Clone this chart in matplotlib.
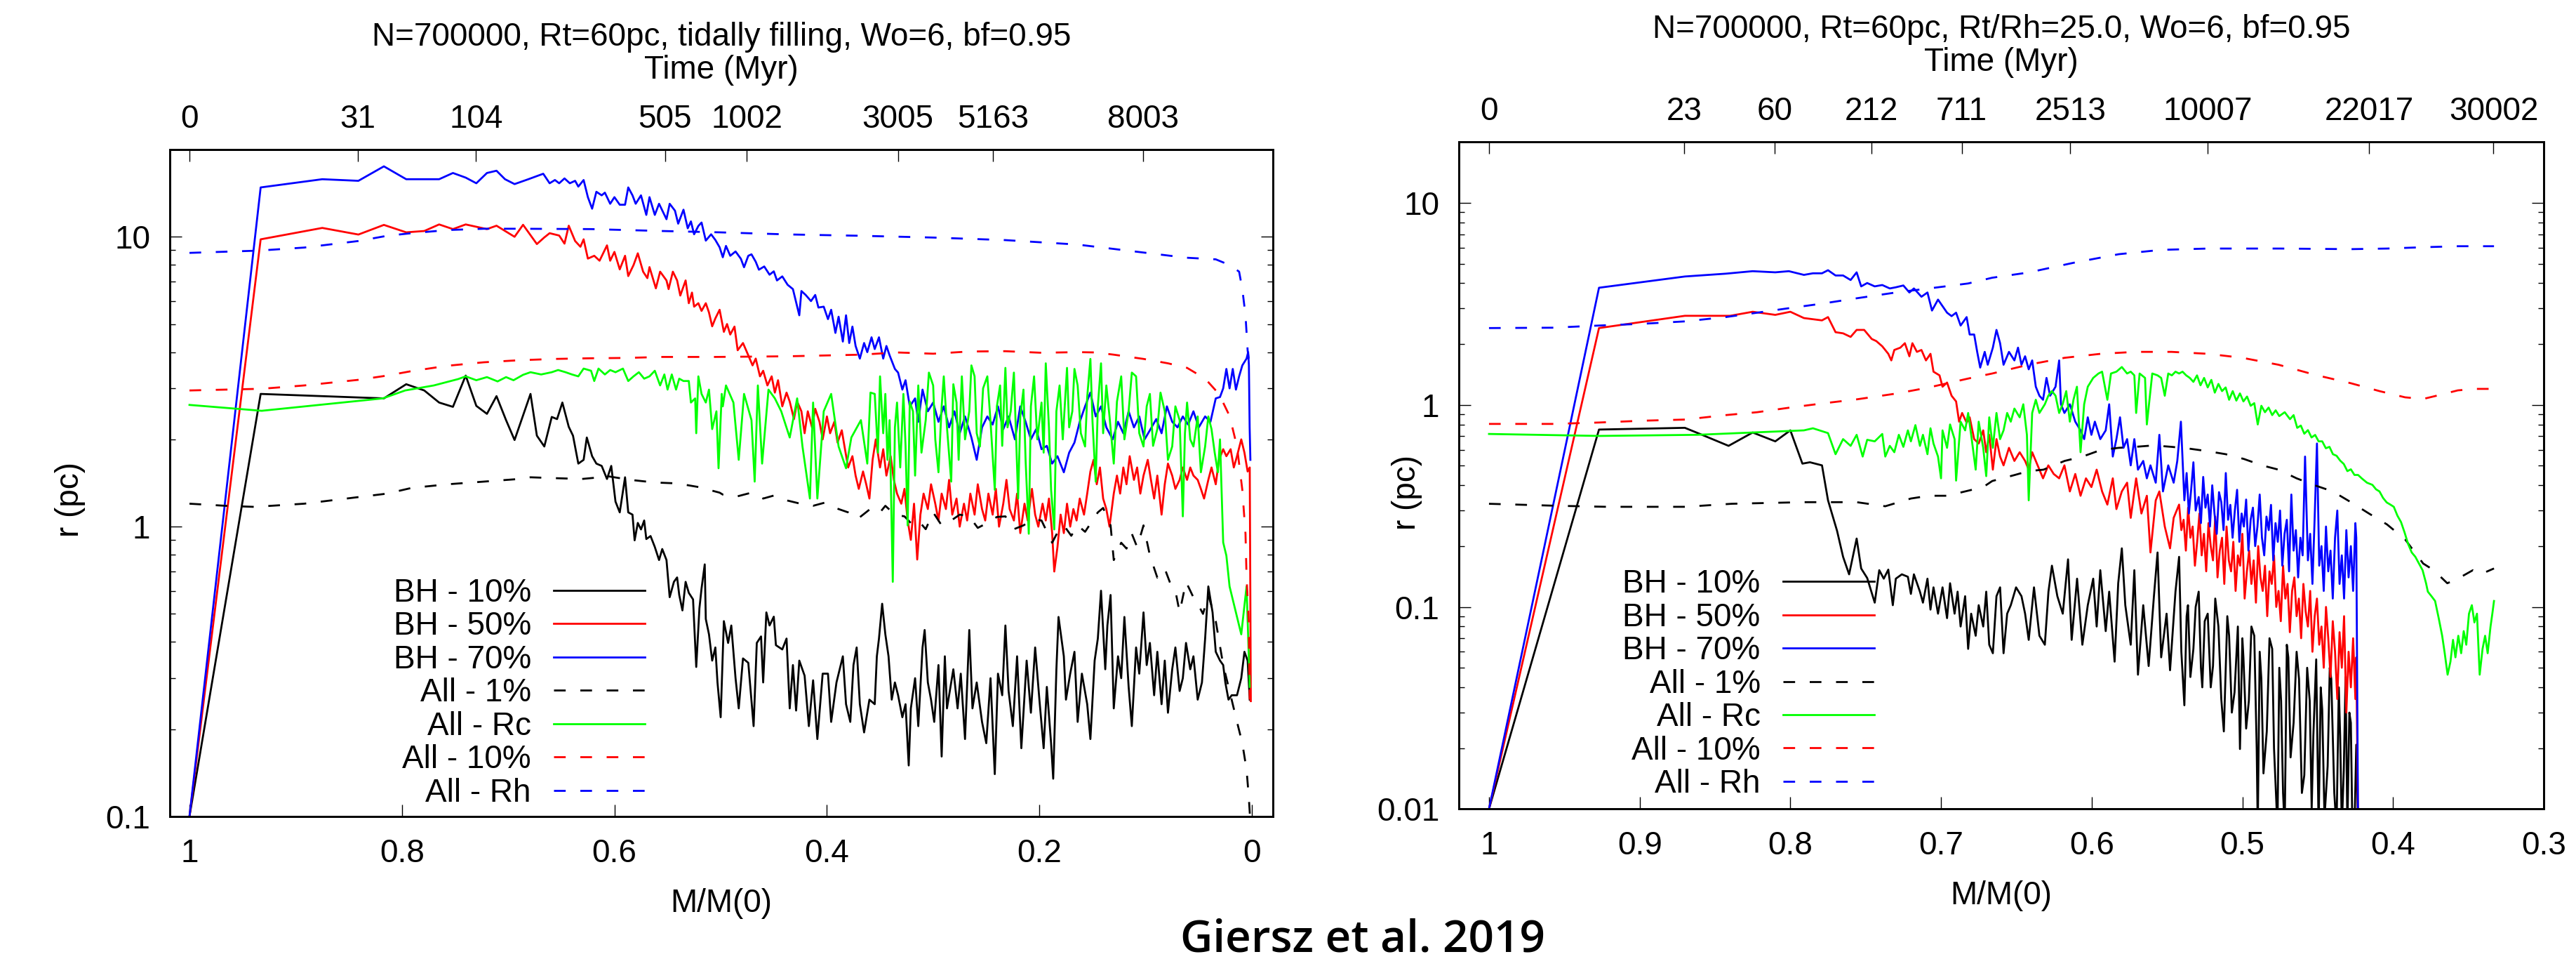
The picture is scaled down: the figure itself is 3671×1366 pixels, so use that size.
import matplotlib.pyplot as plt
from matplotlib.ticker import FixedLocator, NullFormatter, LogLocator
import numpy as np

plt.rcParams['font.family'] = ['Liberation Sans', 'DejaVu Sans']

# ---------------- left panel: tidally filling ----------------
left_title = 'N=700000, Rt=60pc, tidally filling, Wo=6, bf=0.95'
left_top_m = [1.0, 0.8414, 0.7302, 0.5525, 0.4756, 0.3332, 0.2436, 0.1027]
left_top_t = ['0', '31', '104', '505', '1002', '3005', '5163', '8003']
left_xticks = [1, 0.8, 0.6, 0.4, 0.2, 0]
left_yticks = [0.1, 1, 10]

# (M/M0, r[pc])
left_bh10 = [(1.000, 0.10), (0.933, 2.87), (0.875, 2.82), (0.817, 2.77), (0.796, 3.10), (0.779, 2.95), (0.765, 2.68),
             (0.752, 2.59), (0.740, 3.32), (0.730, 2.61), (0.720, 2.45), (0.711, 2.82), (0.702, 2.33), (0.694, 1.99),
             (0.679, 2.87), (0.673, 2.06), (0.666, 1.89), (0.659, 2.39), (0.654, 2.35), (0.649, 2.68), (0.643, 2.21),
             (0.639, 2.06), (0.634, 1.65), (0.629, 1.70), (0.626, 2.03), (0.621, 1.75), (0.617, 1.65), (0.612, 1.62),
             (0.607, 1.46), (0.603, 1.62), (0.599, 1.22), (0.595, 1.12), (0.590, 1.48), (0.587, 1.12), (0.583, 1.10),
             (0.581, 0.897), (0.578, 1.03), (0.575, 0.978), (0.572, 1.05), (0.570, 0.906), (0.566, 0.928), (0.562, 0.851),
             (0.558, 0.767), (0.555, 0.837), (0.551, 0.767), (0.548, 0.571), (0.544, 0.645), (0.541, 0.668), (0.539, 0.581),
             (0.536, 0.514), (0.533, 0.645), (0.530, 0.591), (0.526, 0.561), (0.523, 0.328), (0.520, 0.523), (0.518, 0.612),
             (0.515, 0.741), (0.514, 0.480), (0.511, 0.425), (0.508, 0.345), (0.505, 0.383), (0.503, 0.290), (0.500, 0.220),
             (0.497, 0.472), (0.493, 0.397), (0.490, 0.456), (0.486, 0.300), (0.483, 0.236), (0.479, 0.351), (0.474, 0.339),
             (0.469, 0.205), (0.466, 0.397), (0.462, 0.418), (0.460, 0.290), (0.457, 0.506), (0.454, 0.456), (0.450, 0.489),
             (0.448, 0.390), (0.442, 0.377), (0.438, 0.411), (0.435, 0.236), (0.432, 0.333), (0.429, 0.232), (0.426, 0.345),
             (0.421, 0.306), (0.417, 0.205), (0.413, 0.295), (0.409, 0.185), (0.404, 0.311), (0.399, 0.311), (0.396, 0.212),
             (0.391, 0.290), (0.385, 0.357), (0.382, 0.244), (0.378, 0.212), (0.375, 0.333), (0.372, 0.383), (0.369, 0.244),
             (0.365, 0.195), (0.360, 0.253), (0.355, 0.244), (0.353, 0.357), (0.351, 0.411), (0.348, 0.542), (0.345, 0.425),
             (0.342, 0.357), (0.339, 0.253), (0.336, 0.290), (0.333, 0.262), (0.329, 0.220), (0.326, 0.244), (0.323, 0.150),
             (0.321, 0.236), (0.317, 0.300), (0.314, 0.205), (0.310, 0.383), (0.308, 0.440), (0.305, 0.290), (0.302, 0.253),
             (0.299, 0.212), (0.295, 0.333), (0.292, 0.161), (0.289, 0.357), (0.287, 0.236), (0.281, 0.322), (0.277, 0.236),
             (0.274, 0.311), (0.270, 0.185), (0.266, 0.440), (0.263, 0.236), (0.259, 0.290), (0.254, 0.212), (0.250, 0.179),
             (0.246, 0.300), (0.242, 0.140), (0.239, 0.311), (0.235, 0.262), (0.232, 0.456), (0.229, 0.271), (0.225, 0.205),
             (0.221, 0.357), (0.217, 0.172), (0.212, 0.345), (0.208, 0.228), (0.204, 0.383), (0.200, 0.253), (0.196, 0.172),
             (0.193, 0.280), (0.189, 0.179), (0.187, 0.135), (0.184, 0.322), (0.182, 0.488), (0.177, 0.357), (0.175, 0.253),
             (0.171, 0.311), (0.167, 0.370), (0.164, 0.212), (0.160, 0.311), (0.155, 0.244), (0.152, 0.185), (0.148, 0.345),
             (0.145, 0.411), (0.142, 0.601), (0.138, 0.322), (0.136, 0.456), (0.133, 0.581), (0.130, 0.236), (0.126, 0.357),
             (0.123, 0.300), (0.120, 0.488), (0.116, 0.280), (0.113, 0.205), (0.109, 0.383), (0.106, 0.311), (0.102, 0.506),
             (0.099, 0.333), (0.096, 0.397), (0.092, 0.262), (0.089, 0.370), (0.085, 0.244), (0.082, 0.345), (0.079, 0.228),
             (0.075, 0.322), (0.072, 0.383), (0.068, 0.271), (0.065, 0.300), (0.062, 0.397), (0.058, 0.322), (0.055, 0.357),
             (0.051, 0.253), (0.047, 0.290), (0.044, 0.411), (0.041, 0.622), (0.037, 0.506), (0.034, 0.370), (0.030, 0.345),
             (0.027, 0.333), (0.025, 0.290), (0.022, 0.253), (0.019, 0.262), (0.014, 0.262), (0.010, 0.300), (0.007, 0.370),
             (0.004, 0.345), (0.002, 0.253)]

left_bh50 = [(1.000, 0.10), (0.933, 9.80), (0.875, 10.73), (0.841, 10.18), (0.817, 10.99), (0.796, 10.36), (0.779, 10.47),
             (0.765, 11.03), (0.752, 10.63), (0.740, 11.03), (0.720, 10.63), (0.711, 10.92), (0.694, 10.00), (0.686, 11.00),
             (0.673, 9.44), (0.666, 9.95), (0.661, 10.29), (0.652, 10.10), (0.647, 9.47), (0.643, 10.92), (0.637, 9.67),
             (0.632, 9.24), (0.629, 9.80), (0.625, 8.41), (0.619, 8.60), (0.614, 8.27), (0.607, 9.34), (0.604, 8.27),
             (0.600, 8.87), (0.595, 7.72), (0.590, 8.60), (0.587, 7.32), (0.582, 7.99), (0.578, 8.77), (0.573, 7.58),
             (0.569, 7.20), (0.567, 7.86), (0.561, 6.64), (0.557, 7.58), (0.551, 7.07), (0.549, 6.60), (0.545, 7.58),
             (0.541, 7.07), (0.538, 6.27), (0.533, 7.07), (0.530, 5.90), (0.527, 6.42), (0.525, 5.74), (0.521, 5.90),
             (0.518, 5.55), (0.514, 5.90), (0.511, 5.48), (0.508, 4.91), (0.505, 5.23), (0.501, 5.60), (0.497, 4.70),
             (0.494, 5.00), (0.491, 4.60), (0.487, 4.90), (0.484, 4.06), (0.479, 4.30), (0.474, 3.90), (0.470, 3.60),
             (0.467, 3.80), (0.463, 3.30), (0.460, 3.45), (0.456, 3.07), (0.452, 3.30), (0.449, 2.90), (0.446, 3.20),
             (0.442, 2.60), (0.438, 2.90), (0.435, 2.70), (0.431, 2.35), (0.428, 2.70), (0.424, 2.50), (0.421, 2.10),
             (0.418, 2.50), (0.414, 2.20), (0.411, 2.55), (0.407, 2.30), (0.404, 2.00), (0.400, 2.40), (0.397, 2.10),
             (0.393, 2.30), (0.390, 1.95), (0.386, 2.15), (0.383, 1.85), (0.380, 1.60), (0.376, 1.75), (0.373, 1.50),
             (0.370, 1.35), (0.366, 1.55), (0.363, 1.40), (0.360, 1.25), (0.357, 1.70), (0.354, 2.00), (0.350, 1.60),
             (0.347, 1.85), (0.344, 1.50), (0.340, 1.75), (0.337, 1.45), (0.334, 1.30), (0.330, 1.20), (0.327, 1.35),
             (0.324, 1.05), (0.321, 0.90), (0.318, 1.20), (0.315, 0.77), (0.312, 1.10), (0.309, 1.30), (0.305, 1.15),
             (0.302, 1.40), (0.298, 1.20), (0.295, 1.05), (0.292, 1.30), (0.288, 1.15), (0.285, 1.45), (0.282, 1.10),
             (0.278, 1.25), (0.275, 1.00), (0.271, 1.20), (0.268, 1.05), (0.265, 1.30), (0.261, 1.10), (0.258, 1.40),
             (0.254, 1.15), (0.251, 1.05), (0.248, 1.30), (0.244, 1.10), (0.241, 1.35), (0.238, 1.00), (0.234, 1.20),
             (0.231, 1.45), (0.228, 1.15), (0.224, 1.05), (0.221, 1.30), (0.218, 0.95), (0.214, 1.20), (0.211, 1.05),
             (0.207, 1.35), (0.204, 1.10), (0.201, 1.00), (0.197, 1.20), (0.194, 1.05), (0.191, 1.25), (0.188, 0.95),
             (0.186, 0.70), (0.183, 0.85), (0.180, 1.10), (0.177, 0.95), (0.174, 1.20), (0.171, 1.00), (0.168, 1.15),
             (0.165, 1.05), (0.162, 1.25), (0.158, 1.10), (0.155, 1.30), (0.152, 1.55), (0.149, 1.70), (0.146, 1.40),
             (0.143, 1.60), (0.140, 1.25), (0.137, 1.15), (0.134, 1.00), (0.130, 1.30), (0.127, 1.50), (0.124, 1.30),
             (0.121, 1.60), (0.118, 1.40), (0.115, 1.75), (0.111, 1.45), (0.108, 1.60), (0.105, 1.30), (0.102, 1.50),
             (0.098, 1.70), (0.095, 1.45), (0.092, 1.25), (0.089, 1.50), (0.085, 1.10), (0.082, 1.40), (0.079, 1.65),
             (0.075, 1.50), (0.072, 1.35), (0.068, 1.45), (0.065, 1.60), (0.061, 1.45), (0.058, 1.60), (0.055, 1.50),
             (0.051, 1.45), (0.048, 1.35), (0.045, 1.25), (0.041, 1.45), (0.038, 1.60), (0.034, 1.40), (0.031, 1.70),
             (0.027, 1.85), (0.024, 1.75), (0.020, 1.85), (0.017, 1.60), (0.014, 1.75), (0.010, 2.00), (0.007, 1.80),
             (0.004, 1.55), (0.002, 1.60), (0.001, 0.25)]

left_bh70 = [(1.000, 0.10), (0.933, 14.8), (0.875, 15.8), (0.841, 15.6), (0.817, 17.5), (0.796, 15.8), (0.765, 15.8),
             (0.752, 16.6), (0.740, 16.0), (0.730, 15.3), (0.720, 16.6), (0.711, 16.9), (0.703, 15.8), (0.694, 15.2),
             (0.681, 15.8), (0.667, 16.5), (0.661, 15.3), (0.656, 15.7), (0.652, 15.3), (0.647, 15.9), (0.642, 15.3),
             (0.637, 15.6), (0.634, 14.9), (0.629, 15.7), (0.625, 13.7), (0.621, 12.5), (0.617, 14.3), (0.612, 13.9),
             (0.609, 14.2), (0.604, 13.0), (0.600, 13.7), (0.595, 12.9), (0.590, 12.9), (0.587, 14.8), (0.583, 13.9),
             (0.580, 13.0), (0.575, 13.9), (0.570, 11.9), (0.567, 13.7), (0.562, 11.9), (0.558, 13.0), (0.551, 11.5),
             (0.548, 13.0), (0.543, 12.3), (0.540, 11.1), (0.535, 12.4), (0.531, 10.7), (0.528, 11.3), (0.525, 10.2),
             (0.521, 10.9), (0.518, 11.2), (0.514, 9.7), (0.509, 10.2), (0.505, 9.75), (0.501, 9.2), (0.498, 8.5),
             (0.495, 9.3), (0.491, 8.6), (0.486, 8.9), (0.481, 8.4), (0.478, 7.85), (0.474, 8.6), (0.471, 8.7),
             (0.467, 8.2), (0.464, 7.7), (0.459, 7.9), (0.454, 7.4), (0.450, 7.6), (0.447, 7.07), (0.442, 7.3),
             (0.437, 6.83), (0.432, 6.6), (0.426, 5.36), (0.424, 6.5), (0.420, 6.3), (0.415, 6.0), (0.411, 6.3),
             (0.408, 5.7), (0.403, 5.74), (0.399, 5.2), (0.396, 5.6), (0.392, 4.66), (0.389, 5.3), (0.385, 4.35),
             (0.382, 5.36), (0.379, 4.3), (0.376, 4.9), (0.373, 4.2), (0.369, 3.8), (0.365, 4.3), (0.362, 4.0),
             (0.358, 4.5), (0.355, 4.1), (0.351, 4.5), (0.347, 3.8), (0.344, 4.2), (0.341, 3.9), (0.336, 3.5),
             (0.333, 3.4), (0.329, 2.97), (0.326, 3.2), (0.322, 2.6), (0.317, 2.77), (0.314, 2.3), (0.310, 2.97),
             (0.305, 2.5), (0.300, 2.68), (0.295, 2.3), (0.290, 2.6), (0.285, 2.2), (0.280, 2.5), (0.275, 2.1),
             (0.270, 2.4), (0.264, 2.03), (0.259, 1.7), (0.254, 2.2), (0.249, 2.4), (0.244, 2.25), (0.239, 2.6),
             (0.234, 2.17), (0.229, 2.4), (0.223, 2.0), (0.218, 2.6), (0.213, 2.3), (0.208, 2.0), (0.203, 2.17),
             (0.198, 1.85), (0.193, 1.9), (0.188, 1.65), (0.183, 1.75), (0.177, 1.54), (0.172, 1.8), (0.167, 1.95),
             (0.162, 2.3), (0.157, 2.6), (0.152, 2.9), (0.147, 2.4), (0.142, 2.6), (0.137, 2.2), (0.131, 2.0),
             (0.126, 2.3), (0.121, 2.1), (0.116, 2.5), (0.111, 2.2), (0.106, 2.4), (0.101, 2.0), (0.096, 2.15),
             (0.090, 2.35), (0.085, 2.1), (0.080, 2.6), (0.075, 2.3), (0.070, 2.2), (0.065, 2.4), (0.060, 2.25),
             (0.055, 2.5), (0.050, 2.2), (0.044, 2.4), (0.039, 2.3), (0.034, 2.77), (0.030, 2.8), (0.027, 3.0),
             (0.024, 3.5), (0.021, 3.0), (0.018, 3.5), (0.015, 2.97), (0.012, 3.3), (0.009, 3.6), (0.005, 3.8),
             (0.0035, 4.0), (0.0028, 3.6), (0.0021, 2.2), (0.0014, 1.7)]

left_all1 = [(1.000, 1.20), (0.966, 1.18), (0.939, 1.17), (0.892, 1.20), (0.868, 1.23), (0.814, 1.30), (0.791, 1.36),
             (0.757, 1.40), (0.723, 1.43), (0.690, 1.46), (0.679, 1.48), (0.656, 1.47), (0.631, 1.46), (0.605, 1.49),
             (0.585, 1.45), (0.562, 1.42), (0.541, 1.41), (0.521, 1.37), (0.501, 1.31), (0.498, 1.29), (0.485, 1.27),
             (0.471, 1.31), (0.460, 1.25), (0.450, 1.28), (0.437, 1.23), (0.425, 1.20), (0.413, 1.18), (0.402, 1.21),
             (0.392, 1.16), (0.380, 1.12), (0.372, 1.06), (0.368, 1.085), (0.358, 1.16), (0.350, 1.12), (0.345, 1.18),
             (0.336, 1.10), (0.327, 1.085), (0.320, 1.02), (0.314, 1.05), (0.307, 0.98), (0.300, 1.12), (0.292, 1.01),
             (0.283, 1.05), (0.275, 1.10), (0.266, 1.085), (0.258, 0.99), (0.249, 1.03), (0.240, 1.08), (0.232, 1.085),
             (0.224, 0.98), (0.215, 1.01), (0.206, 1.06), (0.198, 1.05), (0.188, 0.88), (0.182, 0.97), (0.177, 1.01),
             (0.170, 0.93), (0.164, 1.01), (0.157, 0.96), (0.150, 1.05), (0.145, 1.12), (0.140, 1.16), (0.133, 1.01),
             (0.130, 0.767), (0.123, 0.88), (0.118, 0.84), (0.113, 0.945), (0.108, 0.85), (0.102, 1.01), (0.096, 0.795),
             (0.089, 0.667), (0.082, 0.716), (0.077, 0.64), (0.072, 0.601), (0.068, 0.506), (0.062, 0.645), (0.056, 0.58),
             (0.051, 0.542), (0.046, 0.50), (0.041, 0.581), (0.034, 0.472), (0.027, 0.333), (0.021, 0.271), (0.014, 0.212),
             (0.009, 0.179), (0.005, 0.145), (0.003, 0.118), (0.001, 0.09)]

left_rc = [(1.000, 2.63), (0.932, 2.51), (0.818, 2.77), (0.797, 2.95), (0.770, 3.07), (0.747, 3.23), (0.740, 3.30),
           (0.730, 3.20), (0.720, 3.28), (0.710, 3.17), (0.702, 3.28), (0.695, 3.20), (0.686, 3.34), (0.679, 3.41),
           (0.669, 3.35), (0.659, 3.41), (0.653, 3.47), (0.646, 3.41), (0.640, 3.35), (0.634, 3.30), (0.629, 3.51),
           (0.622, 3.45), (0.619, 3.18), (0.615, 3.51), (0.609, 3.35), (0.604, 3.47), (0.599, 3.41), (0.592, 3.51),
           (0.587, 3.18), (0.582, 3.30), (0.577, 3.41), (0.572, 3.24), (0.567, 3.30), (0.562, 3.45), (0.557, 3.07),
           (0.553, 3.35), (0.550, 2.97), (0.546, 3.35), (0.542, 2.97), (0.539, 3.24), (0.535, 3.18), (0.530, 3.18),
           (0.528, 2.68), (0.524, 2.77), (0.523, 2.10), (0.521, 3.30), (0.518, 2.87), (0.514, 2.68), (0.511, 2.97),
           (0.508, 2.17), (0.504, 2.50), (0.502, 1.59), (0.499, 2.87), (0.498, 2.60), (0.495, 3.07), (0.488, 2.68),
           (0.483, 1.70), (0.478, 2.87), (0.471, 2.33), (0.468, 1.43), (0.465, 3.07), (0.461, 1.65), (0.455, 2.97),
           (0.449, 2.77), (0.443, 2.50), (0.435, 2.03), (0.428, 2.77), (0.423, 1.89), (0.416, 1.25), (0.413, 2.68),
           (0.409, 1.25), (0.403, 2.50), (0.396, 2.87), (0.389, 1.89), (0.382, 1.59), (0.377, 2.03), (0.368, 2.33),
           (0.362, 1.65), (0.359, 2.90), (0.355, 2.87), (0.352, 1.80), (0.350, 3.30), (0.347, 2.10), (0.345, 2.87),
           (0.343, 1.70), (0.341, 2.33), (0.338, 0.645), (0.336, 2.20), (0.334, 2.68), (0.331, 1.60), (0.328, 2.87),
           (0.326, 1.90), (0.324, 1.01), (0.322, 2.70), (0.319, 2.50), (0.317, 1.50), (0.314, 3.07), (0.311, 1.80),
           (0.307, 2.33), (0.304, 3.40), (0.300, 3.07), (0.298, 2.00), (0.295, 1.54), (0.292, 2.60), (0.290, 3.30),
           (0.287, 2.20), (0.283, 1.43), (0.281, 3.10), (0.278, 2.68), (0.276, 1.70), (0.273, 3.30), (0.270, 2.00),
           (0.266, 2.50), (0.264, 3.60), (0.261, 3.30), (0.259, 2.10), (0.256, 1.89), (0.253, 3.00), (0.249, 3.30),
           (0.246, 2.30), (0.242, 1.34), (0.240, 2.60), (0.237, 3.07), (0.235, 1.90), (0.232, 3.53), (0.230, 2.20),
           (0.227, 2.50), (0.224, 3.40), (0.220, 1.25), (0.218, 2.40), (0.215, 2.97), (0.213, 1.70), (0.210, 0.945),
           (0.208, 2.60), (0.205, 3.30), (0.202, 2.00), (0.198, 2.68), (0.196, 1.80), (0.194, 3.66), (0.191, 2.20),
           (0.189, 1.34), (0.186, 0.978), (0.184, 2.50), (0.181, 3.07), (0.178, 2.00), (0.174, 3.53), (0.172, 2.20),
           (0.169, 2.50), (0.167, 3.50), (0.164, 3.07), (0.161, 2.10), (0.157, 1.89), (0.155, 2.80), (0.152, 3.79),
           (0.150, 2.30), (0.147, 1.43), (0.145, 2.60), (0.142, 3.66), (0.140, 2.10), (0.137, 3.07), (0.134, 2.40),
           (0.130, 1.65), (0.127, 2.70), (0.123, 3.30), (0.120, 2.00), (0.116, 2.50), (0.113, 3.40), (0.109, 3.30),
           (0.106, 2.10), (0.102, 1.89), (0.099, 2.60), (0.096, 2.87), (0.093, 1.90), (0.089, 2.17), (0.086, 2.90),
           (0.082, 2.50), (0.079, 1.70), (0.075, 1.89), (0.072, 2.60), (0.068, 2.33), (0.065, 1.085), (0.063, 2.10),
           (0.061, 2.68), (0.058, 2.00), (0.055, 1.89), (0.051, 2.40), (0.048, 1.54), (0.044, 1.89), (0.041, 2.40),
           (0.038, 2.17), (0.035, 1.80), (0.032, 1.54), (0.030, 2.00), (0.027, 0.882), (0.024, 0.794), (0.021, 0.622),
           (0.015, 0.506), (0.010, 0.425), (0.005, 0.622), (0.002, 0.280)]

left_all10 = [(1.000, 2.95), (0.932, 2.99), (0.892, 3.07), (0.841, 3.21), (0.814, 3.32), (0.791, 3.44), (0.757, 3.59),
              (0.723, 3.69), (0.690, 3.75), (0.656, 3.79), (0.622, 3.81), (0.589, 3.82), (0.555, 3.85), (0.505, 3.85),
              (0.437, 3.87), (0.368, 3.92), (0.334, 3.99), (0.300, 3.95), (0.266, 4.02), (0.232, 4.03), (0.198, 3.98),
              (0.164, 4.00), (0.147, 3.99), (0.130, 3.92), (0.102, 3.79), (0.079, 3.66), (0.061, 3.53), (0.044, 3.24),
              (0.031, 2.87), (0.021, 2.41), (0.014, 1.89), (0.009, 1.34), (0.006, 0.944), (0.005, 0.667), (0.003, 0.472),
              (0.002, 0.253)]

left_rh = [(1.000, 8.80), (0.935, 8.96), (0.892, 9.18), (0.841, 9.67), (0.814, 10.08), (0.791, 10.29), (0.757, 10.55),
           (0.723, 10.66), (0.690, 10.66), (0.622, 10.63), (0.555, 10.47), (0.501, 10.36), (0.437, 10.19), (0.368, 10.08),
           (0.300, 9.94), (0.232, 9.74), (0.164, 9.40), (0.130, 9.08), (0.096, 8.77), (0.062, 8.47), (0.034, 8.36),
           (0.021, 7.99), (0.012, 7.58), (0.009, 6.60), (0.006, 5.36), (0.004, 4.06), (0.003, 3.80)]

# ---------------- right panel: Rt/Rh=25 ----------------
right_title = 'N=700000, Rt=60pc, Rt/Rh=25.0, Wo=6, bf=0.95'
right_top_m = [1.0, 0.8704, 0.8104, 0.7462, 0.6863, 0.6142, 0.5231, 0.4158, 0.3333]
right_top_t = ['0', '23', '60', '212', '711', '2513', '10007', '22017', '30002']
right_xticks = [1, 0.9, 0.8, 0.7, 0.6, 0.5, 0.4, 0.3]
right_yticks = [0.01, 0.1, 1, 10]

right_bh10 = [(1.000, 0.01), (0.927, 0.755), (0.870, 0.770), (0.860, 0.718), (0.841, 0.627), (0.825, 0.730),
              (0.810, 0.660), (0.800, 0.748), (0.792, 0.512), (0.787, 0.520), (0.779, 0.502), (0.775, 0.337),
              (0.769, 0.238), (0.765, 0.177), (0.761, 0.145), (0.756, 0.218), (0.753, 0.155), (0.749, 0.139),
              (0.744, 0.105), (0.741, 0.152), (0.738, 0.138), (0.735, 0.153), (0.732, 0.102), (0.730, 0.138),
              (0.726, 0.145), (0.722, 0.141), (0.720, 0.116), (0.718, 0.145), (0.714, 0.119), (0.712, 0.105),
              (0.709, 0.138), (0.707, 0.097), (0.705, 0.125), (0.702, 0.0926), (0.699, 0.125), (0.696, 0.088),
              (0.694, 0.131), (0.691, 0.0926), (0.689, 0.119), (0.687, 0.080), (0.684, 0.113), (0.682, 0.062),
              (0.680, 0.0926), (0.677, 0.072), (0.675, 0.102), (0.672, 0.080), (0.670, 0.119), (0.668, 0.065),
              (0.6656, 0.059), (0.6632, 0.113), (0.6608, 0.125), (0.6585, 0.059), (0.6561, 0.0926), (0.6537, 0.102),
              (0.6502, 0.125), (0.6466, 0.113), (0.6442, 0.0926), (0.6418, 0.0687), (0.6383, 0.125), (0.6347, 0.072),
              (0.6311, 0.065), (0.6287, 0.119), (0.6264, 0.160), (0.6228, 0.113), (0.6192, 0.0926), (0.6157, 0.172),
              (0.6133, 0.0687), (0.6097, 0.138), (0.6062, 0.065), (0.6026, 0.102), (0.5990, 0.138), (0.5967, 0.080),
              (0.5943, 0.152), (0.5907, 0.0759), (0.5884, 0.119), (0.5848, 0.0536), (0.5824, 0.131), (0.5800, 0.195),
              (0.5777, 0.102), (0.5741, 0.065), (0.5717, 0.152), (0.5693, 0.0462), (0.5658, 0.102), (0.5622, 0.051),
              (0.5587, 0.113), (0.5563, 0.186), (0.5539, 0.0563), (0.5503, 0.0926), (0.5480, 0.0486), (0.5444, 0.119),
              (0.5420, 0.177), (0.5405, 0.060), (0.5385, 0.0326), (0.5370, 0.090), (0.5361, 0.102), (0.5345, 0.045),
              (0.5325, 0.062), (0.5310, 0.100), (0.5290, 0.119), (0.5275, 0.050), (0.5266, 0.040), (0.5250, 0.085),
              (0.5230, 0.0926), (0.5210, 0.040), (0.5195, 0.051), (0.5180, 0.110), (0.5159, 0.080), (0.5140, 0.035),
              (0.5123, 0.0242), (0.5100, 0.090), (0.5088, 0.072), (0.5070, 0.030), (0.5052, 0.0378), (0.5030, 0.080),
              (0.5016, 0.0198), (0.5000, 0.070), (0.4993, 0.0563), (0.4975, 0.025), (0.4957, 0.0343), (0.4940, 0.080),
              (0.4921, 0.072), (0.4905, 0.020), (0.4898, 0.008), (0.4885, 0.060), (0.4874, 0.044), (0.4860, 0.015),
              (0.4838, 0.0242), (0.4820, 0.070), (0.4802, 0.062), (0.4790, 0.020), (0.4767, 0.008), (0.4755, 0.050),
              (0.4743, 0.0343), (0.4730, 0.012), (0.4719, 0.008), (0.4705, 0.065), (0.4695, 0.0563), (0.4680, 0.018),
              (0.4660, 0.0267), (0.4640, 0.060), (0.4624, 0.044), (0.4605, 0.012), (0.4589, 0.0147), (0.4570, 0.050),
              (0.4553, 0.0343), (0.4540, 0.010), (0.4529, 0.0230), (0.4510, 0.055), (0.4494, 0.008), (0.4480, 0.040),
              (0.4470, 0.031), (0.4455, 0.009), (0.4434, 0.0163), (0.4420, 0.050), (0.4410, 0.044), (0.4390, 0.012),
              (0.4375, 0.008), (0.4360, 0.040), (0.4351, 0.0230), (0.4340, 0.008), (0.4327, 0.0155), (0.4315, 0.045),
              (0.4303, 0.008), (0.4290, 0.030), (0.4280, 0.0267), (0.4270, 0.008), (0.4256, 0.008), (0.4244, 0.0208),
              (0.4232, 0.008)]

right_bh50 = [(1.000, 0.01), (0.927, 2.40), (0.870, 2.76), (0.840, 2.76), (0.825, 2.89), (0.810, 2.79), (0.800, 2.89),
              (0.791, 2.69), (0.779, 2.62), (0.775, 2.72), (0.770, 2.29), (0.765, 2.26), (0.760, 2.17), (0.756, 2.35),
              (0.751, 2.35), (0.746, 2.12), (0.743, 2.07), (0.739, 1.95), (0.735, 1.79), (0.733, 1.66), (0.731, 1.87),
              (0.727, 1.92), (0.724, 2.02), (0.721, 1.74), (0.719, 2.02), (0.716, 1.83), (0.713, 1.87), (0.710, 1.66),
              (0.707, 1.79), (0.705, 1.46), (0.701, 1.40), (0.699, 1.23), (0.696, 1.29), (0.693, 1.11), (0.690, 1.04),
              (0.688, 0.826), (0.686, 0.912), (0.683, 0.816), (0.681, 0.868), (0.678, 0.677), (0.675, 0.644),
              (0.672, 0.748), (0.670, 0.583), (0.668, 0.711), (0.6656, 0.478), (0.6632, 0.677), (0.6608, 0.555),
              (0.6585, 0.502), (0.6549, 0.613), (0.6513, 0.528), (0.6478, 0.583), (0.6442, 0.528), (0.6418, 0.478),
              (0.6395, 0.583), (0.6359, 0.502), (0.6323, 0.433), (0.6288, 0.502), (0.6252, 0.455), (0.6216, 0.433),
              (0.6181, 0.502), (0.6145, 0.373), (0.6109, 0.455), (0.6074, 0.355), (0.6038, 0.433), (0.6002, 0.392),
              (0.5967, 0.478), (0.5931, 0.373), (0.5896, 0.321), (0.5860, 0.433), (0.5836, 0.305), (0.5800, 0.373),
              (0.5765, 0.412), (0.5741, 0.276), (0.5705, 0.433), (0.5670, 0.290), (0.5634, 0.355), (0.5610, 0.186),
              (0.5575, 0.337), (0.5551, 0.373), (0.5515, 0.250), (0.5480, 0.195), (0.5456, 0.276), (0.5420, 0.321),
              (0.5405, 0.240), (0.5390, 0.270), (0.5375, 0.190), (0.5360, 0.310), (0.5345, 0.220), (0.5330, 0.250),
              (0.5315, 0.160), (0.5300, 0.210), (0.5285, 0.290), (0.5270, 0.180), (0.5255, 0.230), (0.5240, 0.150),
              (0.5225, 0.260), (0.5210, 0.200), (0.5195, 0.170), (0.5180, 0.280), (0.5165, 0.140), (0.5150, 0.190),
              (0.5135, 0.220), (0.5120, 0.130), (0.5105, 0.250), (0.5090, 0.170), (0.5075, 0.150), (0.5060, 0.210),
              (0.5045, 0.120), (0.5030, 0.180), (0.5015, 0.160), (0.5000, 0.230), (0.4985, 0.110), (0.4970, 0.150),
              (0.4955, 0.190), (0.4940, 0.130), (0.4925, 0.170), (0.4910, 0.105), (0.4895, 0.200), (0.4880, 0.140),
              (0.4865, 0.120), (0.4850, 0.160), (0.4835, 0.090), (0.4820, 0.150), (0.4805, 0.130), (0.4790, 0.180),
              (0.4775, 0.100), (0.4760, 0.120), (0.4745, 0.085), (0.4730, 0.160), (0.4715, 0.110), (0.4700, 0.130),
              (0.4685, 0.075), (0.4670, 0.120), (0.4655, 0.140), (0.4640, 0.090), (0.4625, 0.110), (0.4610, 0.070),
              (0.4595, 0.130), (0.4580, 0.095), (0.4565, 0.080), (0.4550, 0.120), (0.4535, 0.060), (0.4520, 0.090),
              (0.4505, 0.110), (0.4490, 0.065), (0.4475, 0.080), (0.4460, 0.050), (0.4445, 0.100), (0.4430, 0.070),
              (0.4415, 0.045), (0.4400, 0.085), (0.4385, 0.060), (0.4370, 0.035), (0.4355, 0.075), (0.4340, 0.050),
              (0.4325, 0.090), (0.4310, 0.030), (0.4295, 0.060), (0.4280, 0.040), (0.4265, 0.070), (0.4250, 0.035),
              (0.4244, 0.0563), (0.4232, 0.008)]

right_bh70 = [(1.000, 0.01), (0.927, 3.80), (0.870, 4.32), (0.843, 4.46), (0.825, 4.59), (0.810, 4.53), (0.801, 4.59),
              (0.791, 4.40), (0.785, 4.48), (0.779, 4.48), (0.775, 4.64), (0.770, 4.37), (0.765, 4.37), (0.760, 4.15),
              (0.756, 4.53), (0.753, 3.86), (0.749, 4.01), (0.744, 3.86), (0.739, 3.92), (0.734, 3.77), (0.730, 3.82),
              (0.725, 3.90), (0.721, 3.60), (0.718, 3.77), (0.713, 3.43), (0.709, 3.60), (0.706, 2.93), (0.702, 3.32),
              (0.699, 3.08), (0.696, 2.86), (0.693, 2.75), (0.690, 2.86), (0.687, 2.47), (0.683, 2.72), (0.681, 2.23),
              (0.678, 2.23), (0.676, 1.83), (0.674, 1.53), (0.671, 1.83), (0.669, 1.58), (0.6656, 1.92), (0.6632, 2.35),
              (0.6608, 2.02), (0.6585, 1.58), (0.6549, 1.83), (0.6513, 1.66), (0.6489, 1.92), (0.6466, 1.58),
              (0.6442, 1.74), (0.6418, 1.50), (0.6395, 1.66), (0.6371, 1.23), (0.6347, 1.11), (0.6323, 1.06),
              (0.6300, 1.36), (0.6276, 1.11), (0.6240, 1.23), (0.6216, 1.66), (0.6204, 1.007), (0.6181, 0.912),
              (0.6145, 1.007), (0.6109, 0.826), (0.6074, 0.748), (0.6050, 0.677), (0.6026, 0.868), (0.6002, 0.711),
              (0.5979, 0.826), (0.5943, 0.677), (0.5907, 0.748), (0.5884, 1.007), (0.5860, 0.555), (0.5836, 0.677),
              (0.5812, 0.868), (0.5789, 0.613), (0.5765, 0.677), (0.5741, 0.502), (0.5717, 0.677), (0.5693, 0.478),
              (0.5658, 0.528), (0.5634, 0.433), (0.5610, 0.502), (0.5575, 0.412), (0.5551, 0.711), (0.5527, 0.373),
              (0.5492, 0.502), (0.5456, 0.412), (0.5432, 0.528), (0.5408, 0.826), (0.5385, 0.337), (0.5370, 0.460),
              (0.5355, 0.290), (0.5340, 0.380), (0.5325, 0.520), (0.5310, 0.300), (0.5290, 0.350), (0.5275, 0.260),
              (0.5260, 0.440), (0.5245, 0.310), (0.5230, 0.360), (0.5215, 0.250), (0.5200, 0.400), (0.5185, 0.290),
              (0.5170, 0.230), (0.5155, 0.370), (0.5140, 0.330), (0.5125, 0.240), (0.5110, 0.460), (0.5095, 0.270),
              (0.5080, 0.320), (0.5065, 0.220), (0.5050, 0.300), (0.5035, 0.380), (0.5020, 0.210), (0.5005, 0.290),
              (0.4990, 0.250), (0.4975, 0.340), (0.4960, 0.190), (0.4945, 0.270), (0.4930, 0.310), (0.4915, 0.200),
              (0.4900, 0.250), (0.4885, 0.360), (0.4870, 0.220), (0.4855, 0.180), (0.4840, 0.280), (0.4825, 0.240),
              (0.4810, 0.320), (0.4795, 0.170), (0.4780, 0.260), (0.4765, 0.210), (0.4750, 0.300), (0.4735, 0.160),
              (0.4720, 0.230), (0.4705, 0.270), (0.4690, 0.150), (0.4675, 0.360), (0.4660, 0.190), (0.4645, 0.240),
              (0.4630, 0.140), (0.4615, 0.220), (0.4600, 0.180), (0.4584, 0.555), (0.4565, 0.170), (0.4550, 0.230),
              (0.4535, 0.130), (0.4520, 0.280), (0.4505, 0.644), (0.4490, 0.160), (0.4475, 0.200), (0.4460, 0.120),
              (0.4445, 0.250), (0.4430, 0.150), (0.4415, 0.190), (0.4400, 0.110), (0.4385, 0.220), (0.4370, 0.300),
              (0.4355, 0.130), (0.4340, 0.180), (0.4325, 0.110), (0.4310, 0.240), (0.4295, 0.140), (0.4280, 0.200),
              (0.4265, 0.120), (0.4250, 0.260), (0.4244, 0.220), (0.4232, 0.008)]

right_all1 = [(1.000, 0.324), (0.957, 0.317), (0.922, 0.313), (0.870, 0.313), (0.839, 0.324), (0.791, 0.330),
              (0.756, 0.330), (0.737, 0.315), (0.720, 0.344), (0.708, 0.355), (0.696, 0.355), (0.684, 0.373),
              (0.672, 0.392), (0.666, 0.420), (0.651, 0.450), (0.642, 0.470), (0.632, 0.478), (0.618, 0.528),
              (0.606, 0.555), (0.594, 0.598), (0.582, 0.613), (0.571, 0.620), (0.559, 0.630), (0.547, 0.620),
              (0.535, 0.607), (0.523, 0.590), (0.511, 0.570), (0.499, 0.540), (0.487, 0.502), (0.476, 0.478),
              (0.464, 0.433), (0.452, 0.400), (0.440, 0.373), (0.428, 0.330), (0.416, 0.290), (0.404, 0.256),
              (0.392, 0.216), (0.380, 0.164), (0.373, 0.152), (0.364, 0.131), (0.357, 0.138), (0.347, 0.152),
              (0.342, 0.145), (0.333, 0.155)]

right_rc = [(1.000, 0.718), (0.927, 0.702), (0.862, 0.711), (0.791, 0.748), (0.785, 0.766), (0.775, 0.725),
            (0.770, 0.570), (0.765, 0.677), (0.760, 0.627), (0.756, 0.711), (0.752, 0.555), (0.749, 0.672),
            (0.744, 0.660), (0.739, 0.718), (0.737, 0.555), (0.734, 0.627), (0.731, 0.583), (0.728, 0.711),
            (0.725, 0.620), (0.722, 0.748), (0.720, 0.660), (0.717, 0.794), (0.714, 0.627), (0.712, 0.711),
            (0.709, 0.570), (0.707, 0.766), (0.705, 0.644), (0.702, 0.555), (0.700, 0.433), (0.699, 0.748),
            (0.696, 0.613), (0.694, 0.800), (0.691, 0.677), (0.690, 0.422), (0.687, 0.826), (0.684, 0.748),
            (0.682, 0.912), (0.680, 0.711), (0.677, 0.478), (0.675, 0.826), (0.672, 0.613), (0.670, 0.444),
            (0.668, 0.868), (0.6656, 0.613), (0.6632, 0.912), (0.6608, 0.677), (0.6585, 0.748), (0.6561, 0.912),
            (0.6537, 0.826), (0.6513, 0.959), (0.6478, 0.868), (0.6454, 1.007), (0.6430, 0.711), (0.6418, 0.337),
            (0.6395, 0.912), (0.6371, 1.06), (0.6347, 0.912), (0.6311, 1.007), (0.6288, 1.11), (0.6264, 1.17),
            (0.6240, 1.11), (0.6216, 0.912), (0.6193, 1.007), (0.6169, 1.17), (0.6145, 0.826), (0.6121, 1.06),
            (0.6098, 1.23), (0.6074, 0.583), (0.6050, 1.007), (0.6026, 1.23), (0.5990, 1.36), (0.5955, 1.43),
            (0.5931, 1.46), (0.5896, 1.06), (0.5872, 1.43), (0.5836, 1.46), (0.5800, 1.54), (0.5765, 1.43),
            (0.5741, 1.46), (0.5717, 1.40), (0.5705, 0.912), (0.5682, 1.43), (0.5646, 1.36), (0.5634, 0.800),
            (0.5598, 1.43), (0.5563, 1.40), (0.5539, 1.36), (0.5515, 1.11), (0.5492, 1.43), (0.5468, 1.40),
            (0.5444, 1.46), (0.5420, 1.43), (0.5397, 1.46), (0.5373, 1.40), (0.5349, 1.36), (0.5325, 1.30),
            (0.5301, 1.40), (0.5278, 1.25), (0.5254, 1.36), (0.5230, 1.22), (0.5206, 1.33), (0.5183, 1.15),
            (0.5159, 1.27), (0.5135, 1.17), (0.5111, 1.22), (0.5088, 1.06), (0.5064, 1.17), (0.5040, 1.05),
            (0.5016, 1.14), (0.4993, 1.04), (0.4969, 1.10), (0.4945, 0.99), (0.4921, 1.02), (0.4898, 0.80),
            (0.4874, 0.99), (0.4850, 0.92), (0.4826, 0.97), (0.4802, 0.89), (0.4779, 0.94), (0.4755, 0.88),
            (0.4719, 0.92), (0.4684, 0.85), (0.4660, 0.89), (0.4636, 0.77), (0.4612, 0.79), (0.4589, 0.72),
            (0.4565, 0.75), (0.4541, 0.69), (0.4517, 0.71), (0.4494, 0.66), (0.4470, 0.66), (0.4446, 0.61),
            (0.4422, 0.62), (0.4399, 0.57), (0.4375, 0.56), (0.4351, 0.53), (0.4327, 0.51), (0.4303, 0.47),
            (0.4280, 0.48), (0.4256, 0.45), (0.4232, 0.45), (0.4208, 0.433), (0.4173, 0.412), (0.4137, 0.402),
            (0.4113, 0.382), (0.4090, 0.373), (0.4066, 0.346), (0.4042, 0.329), (0.4018, 0.321), (0.3995, 0.313),
            (0.3971, 0.283), (0.3947, 0.263), (0.3923, 0.233), (0.3900, 0.205), (0.3876, 0.186), (0.3852, 0.177),
            (0.3828, 0.164), (0.3804, 0.152), (0.3781, 0.131), (0.3769, 0.119), (0.3745, 0.113), (0.3721, 0.107),
            (0.3697, 0.088), (0.3674, 0.072), (0.3657, 0.059), (0.3638, 0.0462), (0.3619, 0.0536), (0.3602, 0.0687),
            (0.3586, 0.0563), (0.3567, 0.072), (0.3548, 0.059), (0.3531, 0.0759), (0.3514, 0.065), (0.3496, 0.0926),
            (0.3477, 0.102), (0.3460, 0.0838), (0.3443, 0.0926), (0.3425, 0.0462), (0.3406, 0.062), (0.3389, 0.072),
            (0.3372, 0.059), (0.3353, 0.080), (0.3341, 0.0926), (0.3330, 0.107)]

right_all10 = [(1.000, 0.805), (0.957, 0.805), (0.927, 0.818), (0.898, 0.835), (0.870, 0.846), (0.843, 0.890),
               (0.822, 0.920), (0.801, 0.968), (0.779, 1.016), (0.756, 1.065), (0.729, 1.14), (0.708, 1.22),
               (0.682, 1.35), (0.666, 1.43), (0.642, 1.58), (0.618, 1.71), (0.594, 1.79), (0.571, 1.83),
               (0.547, 1.83), (0.523, 1.79), (0.500, 1.71), (0.476, 1.58), (0.452, 1.41), (0.428, 1.28),
               (0.409, 1.17), (0.392, 1.09), (0.380, 1.07), (0.369, 1.12), (0.357, 1.18), (0.345, 1.20), (0.333, 1.20)]

right_rh = [(1.000, 2.40), (0.958, 2.41), (0.927, 2.47), (0.898, 2.52), (0.870, 2.59), (0.843, 2.72), (0.822, 2.86),
            (0.801, 3.01), (0.779, 3.17), (0.756, 3.37), (0.730, 3.60), (0.708, 3.77), (0.682, 3.99), (0.666, 4.26),
            (0.642, 4.52), (0.611, 5.07), (0.582, 5.57), (0.554, 5.85), (0.523, 5.94), (0.475, 5.94), (0.428, 5.90),
            (0.404, 5.94), (0.380, 6.03), (0.357, 6.10), (0.333, 6.10)]

labels = ['BH - 10%', 'BH - 50%', 'BH - 70%', 'All - 1%', 'All - Rc', 'All - 10%', 'All - Rh']
colors = ['black', '#ff0000', '#0000ff', 'black', '#00ff00', '#ff0000', '#0000ff']
dash = (0, (6, 7.5))
styles = ['-', '-', '-', dash, '-', dash, dash]

FS = 33
fig = plt.figure(figsize=(36.71, 13.66), dpi=100)


def panel(rect, curves, xlim, ylim, xticks, yticks, top_m, top_t, title, ylab_x, leg_xy):
    ax = fig.add_axes(rect)
    for pts, c, ls, lab in zip(curves, colors, styles, labels):
        m, r = np.array(pts).T
        ax.plot(m, r, color=c, ls=ls, lw=2.0, label=lab)
    ax.set_yscale('log')
    ax.set_xlim(xlim)
    ax.set_ylim(ylim)
    ax.set_xticks(xticks)
    ax.set_xticklabels(['%g' % v for v in xticks])
    ax.yaxis.set_major_locator(FixedLocator(yticks))
    ax.set_yticklabels(['%g' % v for v in yticks])
    ax.yaxis.set_minor_locator(LogLocator(base=10, subs=np.arange(2, 10)))
    ax.yaxis.set_minor_formatter(NullFormatter())
    ax.tick_params(which='both', direction='in', left=True, right=True, width=1.0, labelsize=FS)
    ax.tick_params(axis='x', which='major', length=12, pad=22)
    ax.tick_params(axis='y', which='major', length=12, pad=20)
    ax.tick_params(axis='y', which='minor', length=6)
    for s in ax.spines.values():
        s.set_linewidth(2.0)

    axt = ax.twiny()
    axt.set_xlim(xlim)
    axt.set_xticks(top_m)
    axt.set_xticklabels(top_t)
    axt.tick_params(direction='in', length=12, width=1.0, pad=15, labelsize=FS)
    for s in axt.spines.values():
        s.set_linewidth(2.0)

    ax.text(0.5, 1 + 148 / 950, title, transform=ax.transAxes, ha='center', va='baseline', fontsize=FS)
    ax.text(0.5, 1 + 101 / 950, 'Time (Myr)', transform=ax.transAxes, ha='center', va='baseline', fontsize=FS)
    ax.set_xlabel('M/M(0)', fontsize=FS, va='baseline')
    ax.xaxis.set_label_coords(0.5, -136 / 950)
    ax.set_ylabel('r (pc)', fontsize=FS, va='center')
    ax.yaxis.set_label_coords(ylab_x, 0.475)

    ax.legend(loc='center right', bbox_to_anchor=leg_xy, markerfirst=False, frameon=False, fontsize=FS,
              handlelength=2.84, handletextpad=0.7, labelspacing=0.075, borderpad=0, borderaxespad=0)
    return ax


panel([242 / 3671, 203 / 1366, 1572 / 3671, 950 / 1366],
      [left_bh10, left_bh50, left_bh70, left_all1, left_rc, left_all10, left_rh],
      (1.0185, -0.0198), (0.1, 20), left_xticks, left_yticks, left_top_m, left_top_t, left_title,
      -0.0903, (0.4307, 0.185))

panel([2079 / 3671, 213.7 / 1366, 1546 / 3671, 950 / 1366],
      [right_bh10, right_bh50, right_bh70, right_all1, right_rc, right_all10, right_rh],
      (1.02, 0.30), (0.01, 20), right_xticks, right_yticks, right_top_m, right_top_t, right_title,
      -0.048, (0.3829, 0.187))

fig.text(1942 / 3671, 11 / 1366, 'Giersz et al. 2019', ha='center', va='baseline', fontsize=46,
         family=['Open Sans', 'DejaVu Sans'], fontweight='semibold')

fig.savefig('out.png', dpi=100)
